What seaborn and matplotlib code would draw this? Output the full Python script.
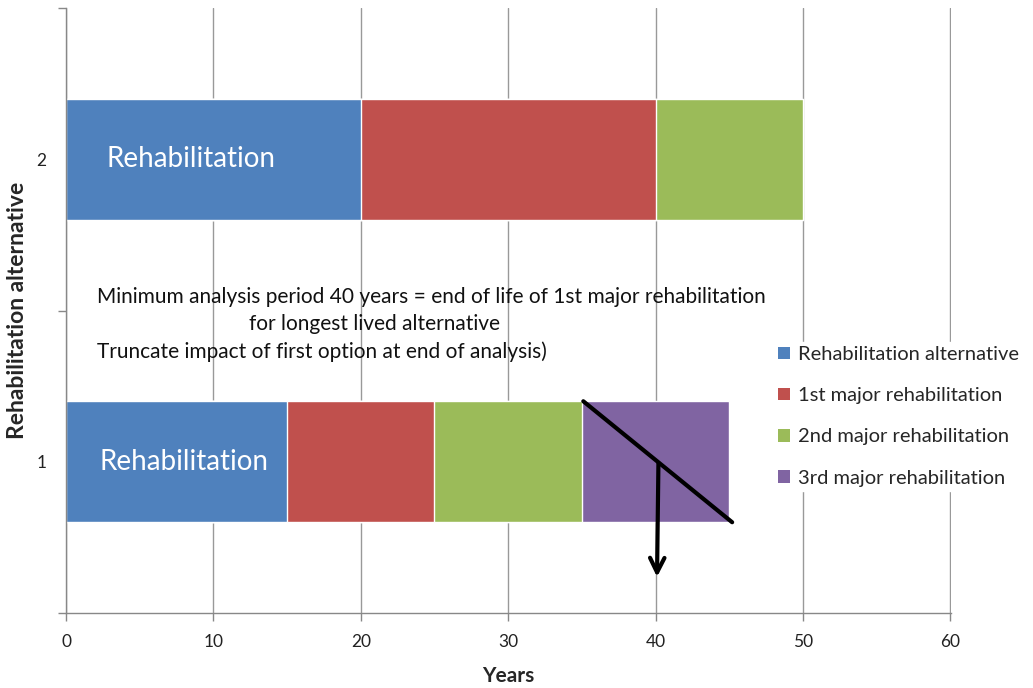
import matplotlib
matplotlib.use("Agg")
import matplotlib.pyplot as plt
from matplotlib.patches import Patch
import seaborn as sns
import pandas as pd

# Service-life segments (years) for each rehabilitation alternative
alternatives = ["1", "2"]
rehabilitation = [15, 20]
first_major = [10, 20]
second_major = [10, 10]
third_major = [10, 0]

segment_names = ["Rehabilitation alternative", "1st major rehabilitation",
                 "2nd major rehabilitation", "3rd major rehabilitation"]
segment_colors = ["#4F81BD", "#C0504D", "#9BBB59", "#8064A2"]
x_ticks = [0, 10, 20, 30, 40, 50, 60]

sns.set_theme(style="white")
plt.rcParams["font.family"] = ["Lato", "DejaVu Sans"]

df = pd.DataFrame({
    "alternative": alternatives,
    segment_names[0]: rehabilitation,
    segment_names[1]: first_major,
    segment_names[2]: second_major,
    segment_names[3]: third_major,
})
cum = df[segment_names].cumsum(axis=1)

fig = plt.figure(figsize=(10.33, 6.88), dpi=100)
ax = fig.add_axes([66 / 1033, 1 - 613 / 688, (951 - 66) / 1033, (613 - 8) / 688])

order = ["2", "1"]
# Draw cumulative totals from the last segment back to the first so each stacks
for name, color in reversed(list(zip(segment_names, segment_colors))):
    sns.barplot(x=cum[name], y=df["alternative"], order=order, color=color,
                width=0.4, orient="h", saturation=1, ax=ax, zorder=2)

ax.set_xlim(0, 60.05)
ax.set_ylim(1.5, -0.5)
ax.set_xticks(x_ticks)
ax.set_xticklabels([str(t) for t in x_ticks], fontsize=12.5, color="#222222")
ax.set_yticks([0, 1])
ax.set_yticklabels(order, fontsize=12.5, color="#222222")
ax.set_yticks([-0.5, 0.5, 1.5], minor=True)
ax.tick_params(axis="y", which="major", length=0, pad=14)
ax.tick_params(axis="y", which="minor", length=6, color="#888888", width=1, direction="out", left=True)
ax.tick_params(axis="x", which="major", length=6, color="#888888", width=1, direction="out", bottom=True, pad=9)
ax.grid(axis="x", color="#999999", linewidth=1, zorder=0)
ax.grid(axis="y", visible=False)
for s in ["top", "right"]:
    ax.spines[s].set_visible(False)
for s in ["left", "bottom"]:
    ax.spines[s].set_color("#888888")
    ax.spines[s].set_linewidth(1)
ax.set_axisbelow(True)

ax.set_xlabel("Years", fontsize=15, fontweight="bold", labelpad=12)
ax.set_ylabel("Rehabilitation alternative", fontsize=16.5, fontweight="bold", labelpad=6)

# Labels inside the first segment of each bar
ax.text(8.5, 0, "Rehabilitation", color="white", fontsize=20, ha="center", va="center", zorder=5)
ax.text(8.0, 1, "Rehabilitation", color="white", fontsize=20, ha="center", va="center", zorder=5)

# Explanatory note
note_size = 15
ax.text(2.1, 0.455, "Minimum analysis period 40 years = end of life of 1st major rehabilitation",
        fontsize=note_size, ha="left", va="center", color="#111111", zorder=5)
ax.text(20.9, 0.545, "for longest lived alternative",
        fontsize=note_size, ha="center", va="center", color="#111111", zorder=5)
ax.text(2.1, 0.637, "Truncate impact of first option at end of analysis)",
        fontsize=note_size, ha="left", va="center", color="#111111", zorder=5)

# Truncation mark across the last segment of alternative 1 with a drop arrow
ax.plot([35.1, 45.2], [0.80, 1.20], color="black", linewidth=3, solid_capstyle="round", zorder=6)
ax.annotate("", xy=(40.1, 1.39), xytext=(40.2, 0.995),
            arrowprops=dict(arrowstyle="->", color="black", lw=3, mutation_scale=26),
            zorder=6)

handles = [Patch(facecolor=c, edgecolor="none") for c in segment_colors]
fig.legend(handles, segment_names, loc="upper left", bbox_to_anchor=(774 / 1033, 1 - 342 / 688),
           frameon=True, facecolor="white", edgecolor="white", framealpha=1,
           fontsize=14.5, handlelength=0.6, handleheight=0.6, handletextpad=0.4,
           labelspacing=1.2, borderpad=0.2, borderaxespad=0)

fig.savefig("out.png", dpi=100)
